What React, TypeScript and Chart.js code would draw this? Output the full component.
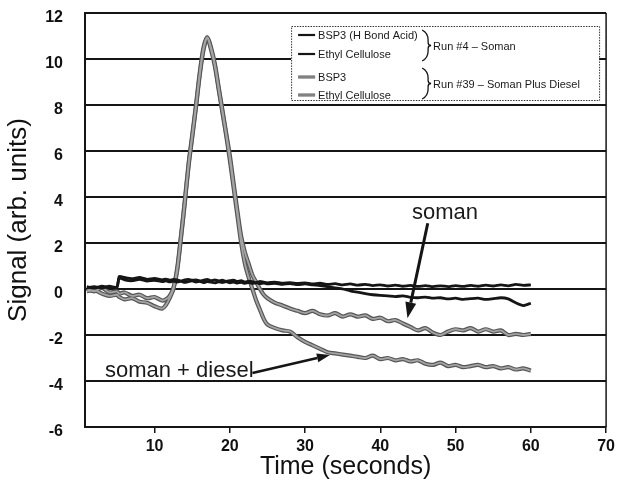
import React, { useEffect, useRef } from "react";
import { Chart, registerables } from "chart.js";

Chart.register(...registerables);

// ---------- data ----------
const timeSec = [
  1, 2, 3, 4, 5, 5.3, 6, 7, 8, 9, 10, 11,
  11.5, 12, 12.5, 13, 13.5, 14, 14.5, 15, 15.5, 16, 16.5, 17, 17.5, 18, 18.5, 19, 19.5, 20,
  20.5, 21, 21.5, 22, 22.5, 23, 23.5, 24, 24.5, 25,
  26, 27, 28, 29, 30, 31, 32, 33, 34, 35, 36, 37, 38, 39, 40, 41, 42, 43, 44, 45,
  46, 47, 48, 49, 50, 51, 52, 53, 54, 55, 56, 57, 58, 59, 60,
];

// Run #4 – Soman, BSP3 (H Bond Acid)
const bsp3Run4 = [
  0.05, 0.1, 0.05, 0.12, 0.08, 0.55, 0.5, 0.45, 0.5, 0.42, 0.46, 0.4,
  0.43, 0.38, 0.42, 0.4, 0.35, 0.4, 0.42, 0.38, 0.4, 0.35, 0.38, 0.42, 0.36, 0.4, 0.35, 0.38, 0.33, 0.36,
  0.38, 0.33, 0.36, 0.3, 0.34, 0.32, 0.28, 0.33, 0.3, 0.27,
  0.3, 0.25, 0.28, 0.24, 0.27, 0.22, 0.25, 0.2, 0.23, 0.18, 0.22, 0.17, 0.2, 0.15, 0.18, 0.13, 0.17, 0.12, 0.16, 0.11,
  0.15, 0.1, 0.14, 0.1, 0.15, 0.11, 0.16, 0.12, 0.17, 0.13, 0.18, 0.14, 0.2, 0.16, 0.18,
];

// Run #4 – Soman, Ethyl Cellulose
const ecRun4 = [
  0.1, 0.04, 0.12, 0.06, 0.1, 0.48, 0.4, 0.36, 0.42, 0.34, 0.38, 0.32,
  0.35, 0.31, 0.34, 0.3, 0.33, 0.29, 0.32, 0.35, 0.3, 0.33, 0.28, 0.32, 0.3, 0.27, 0.31, 0.28, 0.32, 0.27,
  0.3, 0.26, 0.29, 0.25, 0.28, 0.24, 0.27, 0.23, 0.26, 0.22,
  0.25, 0.2, 0.24, 0.19, 0.22, 0.18, 0.15, 0.1, 0.05, 0.0, -0.08, -0.14, -0.2, -0.25, -0.28, -0.3, -0.33, -0.3, -0.36, -0.38,
  -0.35, -0.4, -0.38, -0.43, -0.4, -0.45, -0.42, -0.4, -0.45, -0.42, -0.38, -0.43, -0.6, -0.72, -0.62,
];

// Run #39 – Soman Plus Diesel, BSP3
const bsp3Run39 = [
  0.0, -0.1, 0.05, -0.15, -0.1, -0.2, -0.15, -0.3, -0.25, -0.4, -0.35, -0.5,
  -0.45, -0.3, 0.05, 0.9, 2.3, 3.8, 5.4, 6.7, 8.0, 9.4, 10.5, 10.95, 10.5, 9.8, 8.8, 7.8, 6.8, 5.8,
  4.6, 3.4, 2.3, 1.6, 1.1, 0.6, 0.3, 0.0, -0.25, -0.4,
  -0.6, -0.72, -0.85, -0.95, -1.05, -0.95, -1.1, -1.15, -1.05, -1.2, -1.1, -1.2, -1.15, -1.3, -1.25, -1.4, -1.35, -1.5, -1.65, -1.8,
  -1.7, -1.9, -2.0, -1.85, -1.75, -1.8, -1.7, -1.85, -1.75, -1.85, -1.8, -2.0, -1.95, -2.0, -1.95,
];

// Run #39 – Soman Plus Diesel, Ethyl Cellulose
const ecRun39 = [
  -0.1, -0.05, -0.2, -0.3, -0.25, -0.35, -0.45, -0.4, -0.55, -0.6, -0.75, -0.85,
  -0.7, -0.4, 0.0, 0.8, 2.2, 3.7, 5.3, 6.6, 7.9, 9.3, 10.4, 10.9, 10.4, 9.7, 8.7, 7.7, 6.7, 5.6,
  4.4, 3.2, 2.0, 1.1, 0.5, 0.0, -0.5, -0.9, -1.3, -1.55,
  -1.7, -1.8, -1.85, -2.1, -2.3, -2.45, -2.6, -2.75, -2.8, -2.85, -2.9, -2.95, -3.0, -2.9, -3.05, -3.0, -3.1, -3.05, -3.15, -3.1,
  -3.25, -3.3, -3.2, -3.35, -3.3, -3.4, -3.35, -3.3, -3.4, -3.35, -3.45, -3.4, -3.5, -3.45, -3.55,
];

const xTicks = [10, 20, 30, 40, 50, 60, 70];
const yTicks = [-6, -4, -2, 0, 2, 4, 6, 8, 10, 12];

const legendLabels = ["BSP3 (H Bond Acid)", "Ethyl Cellulose", "BSP3", "Ethyl Cellulose"];
const runLabels = ["Run #4 \u2013 Soman", "Run #39 \u2013 Soman Plus Diesel"];

// annotations (data units)
const annotationLabels = ["soman", "soman + diesel"];
const annotationText = [[48.6, 3.3], [3.4, -3.81]];
const annotationArrowFrom = [[46.3, 2.86], [23.0, -3.65]];
const annotationArrowTo = [[43.6, -1.27], [33.3, -2.87]];

// ---------- drawing ----------
const FONT = "'Liberation Sans', Arial, Helvetica, sans-serif";
const BLACK = "#151515";
const GRAY_EDGE = "#575757";
const GRAY_FILL = "#a4a4a4";

function toPoints(values: number[]) {
  return timeSec.map((t, i) => ({ x: t, y: values[i] }));
}

function drawArrow(ctx: CanvasRenderingContext2D, x1: number, y1: number, x2: number, y2: number, lw: number, headLen: number, headW: number) {
  const ang = Math.atan2(y2 - y1, x2 - x1);
  const bx = x2 - Math.cos(ang) * headLen;
  const by = y2 - Math.sin(ang) * headLen;
  ctx.strokeStyle = BLACK;
  ctx.fillStyle = BLACK;
  ctx.lineWidth = lw;
  ctx.beginPath();
  ctx.moveTo(x1, y1);
  ctx.lineTo(bx, by);
  ctx.stroke();
  const px = (-Math.sin(ang) * headW) / 2;
  const py = (Math.cos(ang) * headW) / 2;
  ctx.beginPath();
  ctx.moveTo(x2, y2);
  ctx.lineTo(bx + px, by + py);
  ctx.lineTo(bx - px, by - py);
  ctx.closePath();
  ctx.fill();
}

function drawBrace(ctx: CanvasRenderingContext2D, x: number, yTop: number, yBot: number) {
  const ym = (yTop + yBot) / 2;
  ctx.strokeStyle = BLACK;
  ctx.lineWidth = 1.3;
  ctx.beginPath();
  ctx.moveTo(x, yTop);
  ctx.quadraticCurveTo(x + 6, yTop + 3, x + 6, yTop + 10);
  ctx.lineTo(x + 6, ym - 3);
  ctx.quadraticCurveTo(x + 6, ym, x + 9, ym);
  ctx.quadraticCurveTo(x + 6, ym, x + 6, ym + 3);
  ctx.lineTo(x + 6, yBot - 10);
  ctx.quadraticCurveTo(x + 6, yBot - 3, x, yBot);
  ctx.stroke();
}

const overlayPlugin = {
  id: "overlay",
  afterDatasetsDraw(chart: any) {
    const { ctx, chartArea: a, scales } = chart;
    const xs = scales.x;
    const ys = scales.y;
    ctx.save();

    // right border
    ctx.strokeStyle = BLACK;
    ctx.lineWidth = 1.5;
    ctx.beginPath();
    ctx.moveTo(a.right, a.top);
    ctx.lineTo(a.right, a.bottom);
    ctx.stroke();

    // annotations
    ctx.font = `22px ${FONT}`;
    annotationLabels.forEach((label, i) => {
      const tx = xs.getPixelForValue(annotationText[i][0]);
      const ty = ys.getPixelForValue(annotationText[i][1]);
      ctx.fillStyle = "#1a1a1a";
      ctx.textAlign = i === 0 ? "center" : "left";
      ctx.textBaseline = i === 0 ? "middle" : "alphabetic";
      ctx.fillText(label, tx, ty);
      drawArrow(
        ctx,
        xs.getPixelForValue(annotationArrowFrom[i][0]),
        ys.getPixelForValue(annotationArrowFrom[i][1]),
        xs.getPixelForValue(annotationArrowTo[i][0]),
        ys.getPixelForValue(annotationArrowTo[i][1]),
        i === 0 ? 3 : 2.5,
        i === 0 ? 16 : 13,
        i === 0 ? 11 : 9
      );
    });

    // legend box
    const bx0 = a.right - 315;
    const by0 = a.top + 13;
    const bw = 308;
    const bh = 74;
    ctx.fillStyle = "#ffffff";
    ctx.fillRect(bx0, by0, bw, bh);
    ctx.setLineDash([1.5, 1.2]);
    ctx.strokeStyle = "#333";
    ctx.lineWidth = 1;
    ctx.strokeRect(bx0 + 0.5, by0 + 0.5, bw, bh);
    ctx.setLineDash([]);

    const rowsY = [by0 + 9, by0 + 28, by0 + 51, by0 + 69];
    ctx.font = `11px ${FONT}`;
    ctx.textAlign = "left";
    ctx.textBaseline = "middle";
    legendLabels.forEach((label, i) => {
      const ly = rowsY[i];
      const lx0 = bx0 + 7;
      const lx1 = bx0 + 24;
      if (i < 2) {
        ctx.strokeStyle = BLACK;
        ctx.lineWidth = 2.2;
        ctx.beginPath();
        ctx.moveTo(lx0, ly);
        ctx.lineTo(lx1, ly);
        ctx.stroke();
      } else {
        ctx.strokeStyle = GRAY_EDGE;
        ctx.lineWidth = 3;
        ctx.beginPath();
        ctx.moveTo(lx0, ly);
        ctx.lineTo(lx1, ly);
        ctx.stroke();
        ctx.strokeStyle = GRAY_FILL;
        ctx.lineWidth = 1.1;
        ctx.beginPath();
        ctx.moveTo(lx0, ly);
        ctx.lineTo(lx1, ly);
        ctx.stroke();
      }
      ctx.fillStyle = "#1a1a1a";
      ctx.fillText(label, bx0 + 27, ly + 0.5);
    });

    const braceX = bx0 + 131;
    drawBrace(ctx, braceX, by0 + 4, by0 + 35);
    drawBrace(ctx, braceX, by0 + 42, by0 + 73);
    ctx.fillStyle = "#1a1a1a";
    ctx.fillText(runLabels[0], bx0 + 142, by0 + 20.5);
    ctx.fillText(runLabels[1], bx0 + 142, by0 + 59);

    ctx.restore();
  },
};

export default function App() {
  const ref = useRef<HTMLCanvasElement>(null);

  useEffect(() => {
    document.body.style.margin = "0";
    const line = (values: number[], color: string, width: number, tension: number) => ({
      data: toPoints(values),
      borderColor: color,
      borderWidth: width,
      pointRadius: 0,
      tension,
      fill: false,
    });
    const chart = new Chart(ref.current as HTMLCanvasElement, {
      type: "line",
      data: {
        datasets: [
          line(bsp3Run4, BLACK, 2.8, 0.2),
          line(ecRun4, BLACK, 2.8, 0.2),
          line(bsp3Run39, GRAY_FILL, 1.8, 0.3),
          line(ecRun39, GRAY_FILL, 1.8, 0.3),
          line(bsp3Run39, GRAY_EDGE, 4.2, 0.3),
          line(ecRun39, GRAY_EDGE, 4.2, 0.3),
        ] as any,
      },
      options: {
        responsive: false,
        animation: false,
        events: [],
        layout: { padding: { top: 13, right: 9, left: 0, bottom: 0 } },
        plugins: { legend: { display: false }, tooltip: { enabled: false } },
        scales: {
          x: {
            type: "linear",
            min: 0.75,
            max: 70,
            afterBuildTicks: (s: any) => {
              s.ticks = xTicks.map((v) => ({ value: v }));
            },
            afterFit: (s: any) => {
              s.height = 55;
            },
            grid: { drawOnChartArea: false, drawTicks: true, tickLength: 6, color: BLACK, lineWidth: 1.5 },
            border: { color: BLACK, width: 2 },
            ticks: {
              color: "#111",
              autoSkip: false,
              maxRotation: 0,
              padding: 4,
              font: { family: FONT, size: 16, weight: "bold" },
            },
            title: {
              display: true,
              text: "Time (seconds)",
              color: "#111",
              font: { family: FONT, size: 25 },
              padding: { top: 0, bottom: 0 },
            },
          },
          y: {
            type: "linear",
            min: -6,
            max: 12,
            afterBuildTicks: (s: any) => {
              s.ticks = yTicks.map((v) => ({ value: v }));
            },
            afterFit: (s: any) => {
              s.width = 85;
              s.paddingTop = 0;
              s.paddingBottom = 0;
            },
            grid: { drawTicks: false, color: BLACK, lineWidth: 2 },
            border: { color: BLACK, width: 2 },
            ticks: {
              color: "#111",
              padding: 22,
              labelOffset: 5,
              font: { family: FONT, size: 16, weight: "bold" },
            },
            title: {
              display: true,
              text: "Signal (arb. units)",
              color: "#111",
              font: { family: FONT, size: 26 },
              padding: { top: 3, bottom: 0 },
            },
          },
        },
      } as any,
      plugins: [overlayPlugin],
    });
    return () => chart.destroy();
  }, []);

  return (
    <div style={{ width: 619, height: 482 }}>
      <canvas ref={ref} width={619} height={482} style={{ display: "block" }} />
    </div>
  );
}
